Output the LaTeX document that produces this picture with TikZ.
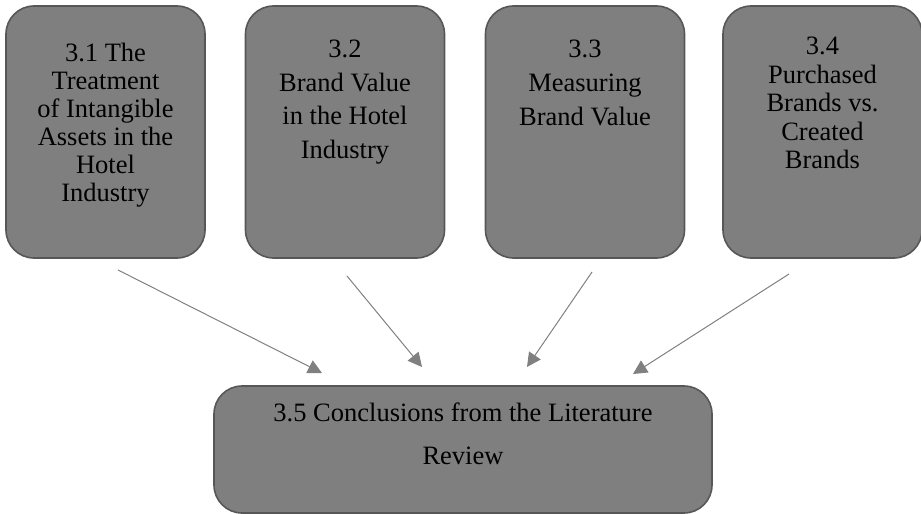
\documentclass[tikz,border=0pt]{standalone}
\usepackage{fontspec}
\setmainfont{Liberation Serif}
\usetikzlibrary{arrows.meta}
\definecolor{boxfill}{HTML}{7F7F7F}
\definecolor{boxline}{HTML}{575757}
\definecolor{arrowgray}{HTML}{808080}
\begin{document}
\begin{tikzpicture}[x=1pt, y=-1pt,
  box/.style={draw=boxline, fill=boxfill, line width=1.6pt, rounded corners=28pt, inner sep=0pt},
  topbox/.style={box, minimum width=199pt, minimum height=252pt},
  txt/.style={align=center, inner sep=0pt, anchor=north},
  link/.style={draw=arrowgray, line width=1pt, -{Triangle[length=14pt,width=14pt]}}]
\useasboundingbox (0,0) rectangle (921,514);
\node[topbox] (sec1) at (105.5,132){};
\node[topbox] (sec2) at (345,132){};
\node[topbox] (sec3) at (585,132){};
\node[topbox] (sec4) at (822.5,132){};
\node[box, minimum width=498pt, minimum height=127pt] (concl) at (463,449.5){};
\node[txt, font={\fontsize{26.5}{28}\selectfont}] (lab1) at (sec1.center |- 0,43) {3.1 The\\Treatment\\of Intangible\\Assets in the\\Hotel\\Industry};
\node[txt, font={\fontsize{26.5}{33.5}\selectfont}] (lab2) at (sec2.center |- 0,40) {3.2\\Brand Value\\in the Hotel\\Industry};
\node[txt, font={\fontsize{26.5}{34}\selectfont}] (lab3) at (sec3.center |- 0,40) {3.3\\Measuring\\Brand Value};
\node[txt, font={\fontsize{26.5}{28.5}\selectfont}] (lab4) at (sec4.center |- 0,37) {3.4\\Purchased\\Brands vs.\\Created\\Brands};
\node[txt, font={\fontsize{26.5}{43}\selectfont}] (lab5) at (concl.center |- 0,403) {3.5 Conclusions from the Literature\\Review};
\coordinate (from1) at (118,270);
\coordinate (to1) at (322,373);
\coordinate (from2) at (347,276);
\coordinate (to2) at (422,367);
\coordinate (from3) at (592,272);
\coordinate (to3) at (527,367);
\coordinate (from4) at (789,274);
\coordinate (to4) at (633,374);
\draw[link](from1) -- (to1);
\draw[link](from2) -- (to2);
\draw[link](from3) -- (to3);
\draw[link](from4) -- (to4);
\end{tikzpicture}
\end{document}
